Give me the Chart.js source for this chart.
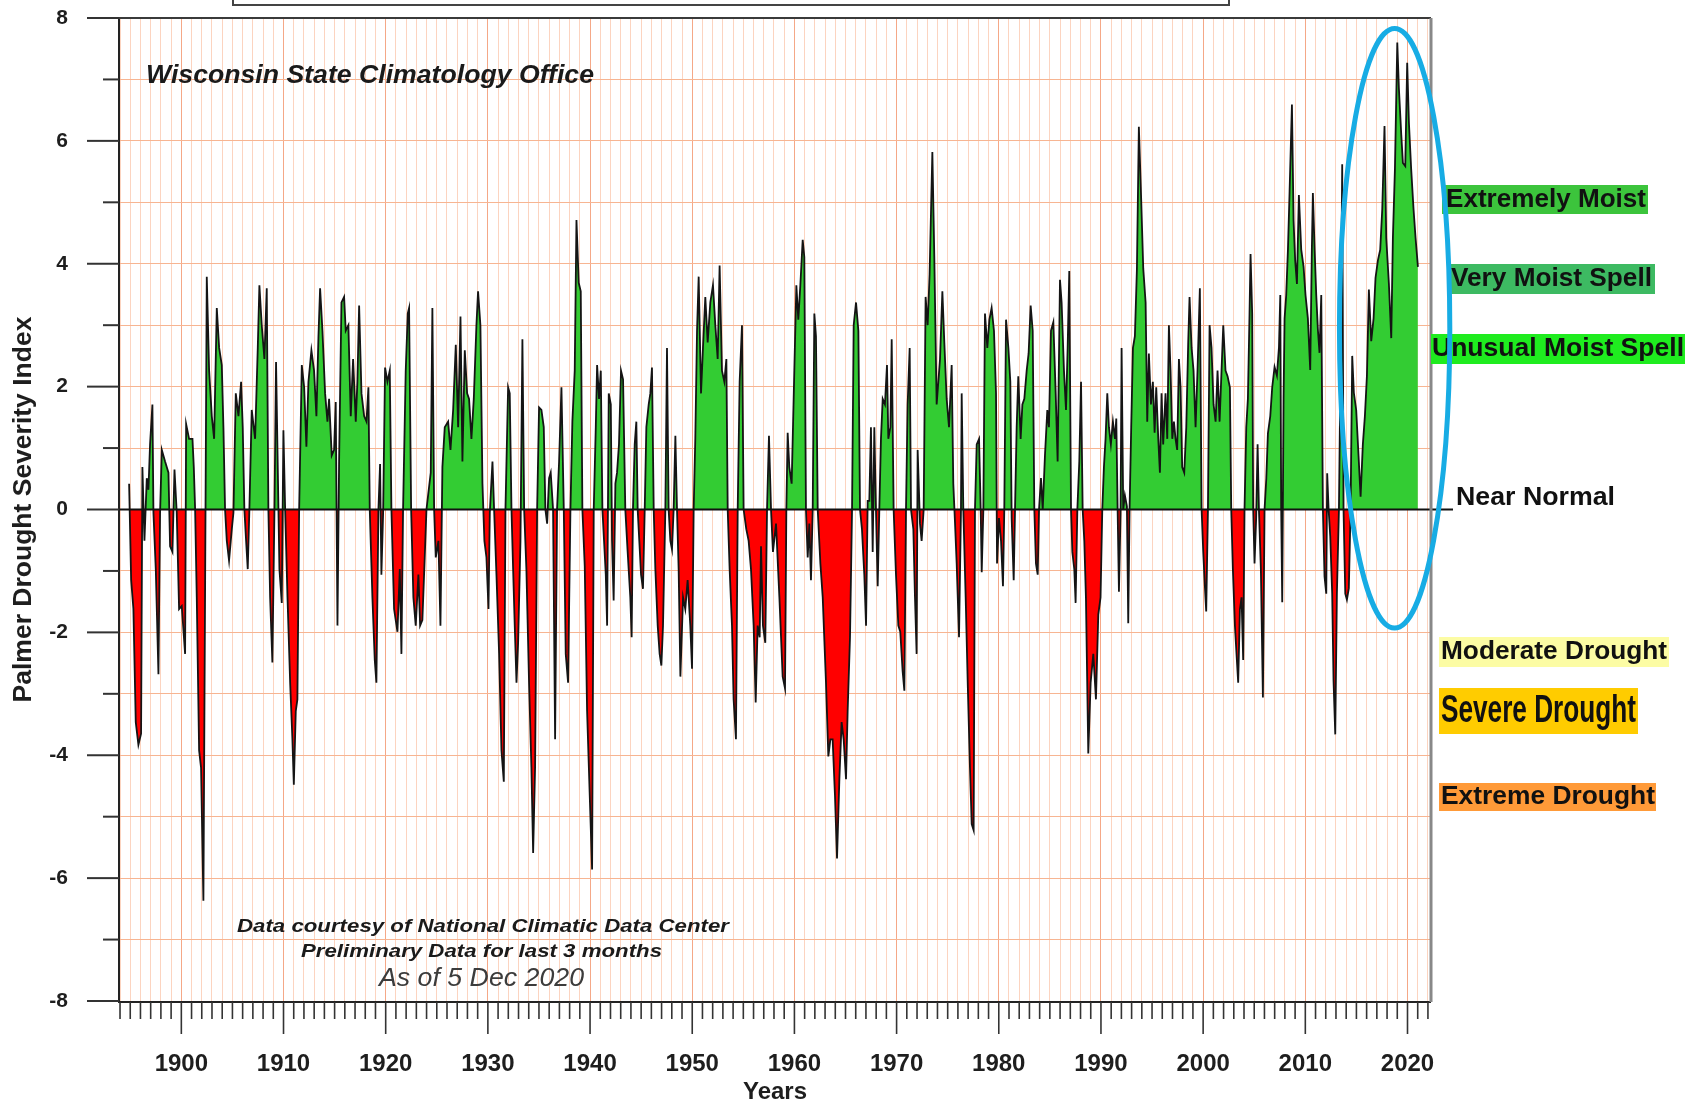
<!DOCTYPE html>
<html><head><meta charset="utf-8">
<script src="https://cdn.jsdelivr.net/npm/chart.js@4.4.1/dist/chart.umd.min.js"></script>
<style>html,body{margin:0;padding:0;background:#fff;}canvas{display:block;}</style>
</head><body>
<canvas id="c" width="1694" height="1107"></canvas>
<script>
// ---------- DATA ----------
const years = [
1894.89,1895.09,1895.31,1895.54,1895.80,1896.06,1896.19,1896.39,1896.62,1896.78,
1896.94,1897.17,1897.27,1897.50,1897.76,1897.92,1898.09,1898.41,1898.74,1898.90,
1899.13,1899.33,1899.55,1899.78,1900.04,1900.37,1900.47,1900.76,1901.09,1901.22,
1901.35,1901.51,1901.74,1901.93,1902.16,1902.49,1902.72,1902.98,1903.21,1903.47,
1903.70,1903.96,1904.12,1904.28,1904.45,1904.67,1904.94,1905.10,1905.33,1905.59,
1905.85,1906.01,1906.17,1906.34,1906.50,1906.66,1906.89,1907.22,1907.48,1907.64,
1907.87,1908.13,1908.36,1908.52,1908.69,1908.91,1909.11,1909.27,1909.60,1909.83,
1909.99,1910.16,1910.39,1910.65,1910.87,1911.01,1911.20,1911.36,1911.53,1911.79,
1912.02,1912.24,1912.44,1912.73,1912.99,1913.22,1913.42,1913.58,1913.81,1914.07,
1914.30,1914.46,1914.72,1914.95,1915.11,1915.28,1915.44,1915.67,1915.93,1916.09,
1916.35,1916.58,1916.81,1917.07,1917.23,1917.40,1917.63,1917.89,1918.12,1918.31,
1918.44,1918.70,1918.93,1919.09,1919.29,1919.45,1919.58,1919.75,1919.94,1920.17,
1920.40,1920.56,1920.82,1921.15,1921.38,1921.54,1921.70,1921.96,1922.16,1922.29,
1922.49,1922.71,1922.94,1923.20,1923.37,1923.59,1923.82,1923.99,1924.15,1924.41,
1924.57,1924.74,1924.90,1925.16,1925.36,1925.55,1925.78,1926.11,1926.34,1926.60,
1926.86,1927.09,1927.32,1927.51,1927.74,1927.97,1928.16,1928.39,1928.62,1928.88,
1929.04,1929.27,1929.47,1929.66,1929.86,1930.06,1930.19,1930.45,1930.61,1930.84,
1931.10,1931.33,1931.56,1931.72,1931.98,1932.14,1932.31,1932.47,1932.63,1932.80,
1932.96,1933.19,1933.38,1933.55,1933.77,1934.03,1934.26,1934.43,1934.62,1934.82,
1935.01,1935.24,1935.47,1935.63,1935.80,1935.99,1936.15,1936.38,1936.58,1936.77,
1936.97,1937.20,1937.43,1937.62,1937.85,1938.08,1938.27,1938.50,1938.67,1938.89,
1939.09,1939.25,1939.48,1939.71,1939.97,1940.20,1940.36,1940.56,1940.69,1940.88,
1941.05,1941.21,1941.37,1941.54,1941.67,1941.83,1942.03,1942.15,1942.31,1942.48,
1942.64,1942.83,1943.03,1943.23,1943.45,1943.68,1943.94,1944.07,1944.20,1944.37,
1944.53,1944.66,1944.82,1944.99,1945.18,1945.35,1945.51,1945.74,1945.90,1946.06,
1946.23,1946.39,1946.62,1946.81,1946.98,1947.14,1947.37,1947.53,1947.69,1947.86,
1948.02,1948.18,1948.35,1948.51,1948.67,1948.84,1949.10,1949.32,1949.55,1949.81,
1949.98,1950.14,1950.30,1950.47,1950.63,1950.86,1951.05,1951.28,1951.51,1951.77,
1952.03,1952.26,1952.49,1952.68,1952.91,1953.14,1953.34,1953.47,1953.66,1953.89,
1954.05,1954.28,1954.45,1954.64,1954.87,1955.03,1955.29,1955.52,1955.75,1956.01,
1956.21,1956.40,1956.60,1956.73,1956.92,1957.15,1957.32,1957.51,1957.71,1957.90,
1958.20,1958.53,1958.85,1959.08,1959.21,1959.34,1959.50,1959.73,1959.99,1960.19,
1960.38,1960.58,1960.81,1960.97,1961.13,1961.30,1961.46,1961.62,1961.79,1961.95,
1962.11,1962.28,1962.54,1962.77,1963.09,1963.32,1963.52,1963.74,1963.97,1964.17,
1964.40,1964.62,1964.82,1965.05,1965.21,1965.44,1965.64,1965.80,1966.03,1966.26,
1966.42,1966.61,1966.84,1967.01,1967.17,1967.33,1967.49,1967.66,1967.82,1967.98,
1968.15,1968.31,1968.47,1968.64,1968.86,1969.06,1969.19,1969.39,1969.52,1969.71,
1969.94,1970.17,1970.36,1970.59,1970.76,1970.92,1971.08,1971.28,1971.41,1971.64,
1971.80,1971.96,1972.06,1972.29,1972.45,1972.65,1972.84,1973.04,1973.23,1973.50,
1973.69,1973.92,1974.25,1974.48,1974.67,1974.90,1975.13,1975.39,1975.55,1975.72,
1975.88,1976.11,1976.30,1976.37,1976.53,1976.76,1976.96,1977.18,1977.35,1977.54,
1977.67,1977.84,1978.07,1978.23,1978.33,1978.49,1978.65,1978.88,1979.08,1979.30,
1979.53,1979.73,1979.83,1980.02,1980.22,1980.41,1980.54,1980.71,1980.94,1981.13,
1981.26,1981.46,1981.59,1981.75,1981.91,1982.14,1982.31,1982.50,1982.73,1982.92,
1983.12,1983.32,1983.48,1983.64,1983.81,1983.94,1984.13,1984.30,1984.52,1984.75,
1984.91,1985.11,1985.34,1985.57,1985.76,1985.99,1986.15,1986.38,1986.58,1986.74,
1986.90,1987.07,1987.20,1987.39,1987.52,1987.69,1987.88,1988.05,1988.21,1988.37,
1988.53,1988.76,1988.99,1989.25,1989.51,1989.74,1989.96,1990.13,1990.29,1990.45,
1990.62,1990.78,1990.97,1991.17,1991.37,1991.50,1991.63,1991.76,1991.92,1992.02,
1992.18,1992.34,1992.54,1992.67,1992.80,1992.96,1993.13,1993.32,1993.52,1993.71,
1993.94,1994.14,1994.37,1994.53,1994.69,1994.89,1995.08,1995.25,1995.41,1995.61,
1995.77,1995.93,1996.09,1996.32,1996.49,1996.65,1996.81,1996.98,1997.14,1997.30,
1997.46,1997.63,1997.79,1997.95,1998.15,1998.35,1998.54,1998.67,1998.87,1999.06,
1999.26,1999.45,1999.68,1999.85,2000.01,2000.17,2000.30,2000.47,2000.63,2000.82,
2001.02,2001.22,2001.41,2001.61,2001.80,2001.97,2002.19,2002.39,2002.62,2002.75,
2002.91,2003.11,2003.30,2003.43,2003.60,2003.76,2003.92,2004.05,2004.22,2004.38,
2004.54,2004.64,2004.80,2004.90,2005.03,2005.19,2005.33,2005.46,2005.65,2005.85,
2006.01,2006.18,2006.34,2006.57,2006.76,2006.99,2007.22,2007.42,2007.55,2007.64,
2007.74,2007.87,2007.97,2008.13,2008.30,2008.46,2008.69,2008.85,2009.01,2009.18,
2009.37,2009.60,2009.83,2010.02,2010.25,2010.48,2010.64,2010.74,2010.91,2011.07,
2011.23,2011.39,2011.56,2011.72,2011.88,2012.05,2012.14,2012.28,2012.44,2012.63,
2012.76,2012.93,2013.09,2013.29,2013.45,2013.61,2013.74,2013.91,2014.07,2014.26,
2014.43,2014.59,2014.75,2014.98,2015.21,2015.41,2015.63,2015.83,2016.03,2016.22,
2016.45,2016.68,2016.87,2017.10,2017.33,2017.53,2017.75,2017.92,2018.18,2018.41,
2018.57,2018.77,2019.00,2019.16,2019.39,2019.55,2019.78,2019.97,2020.14,2020.36,
2020.59,2020.79,2021.02
];
const pdsi = [
0.42,-1.15,-1.62,-3.46,-3.83,-3.65,0.69,-0.51,0.51,0.32,
1.06,1.71,-0.05,-0.97,-2.68,-0.05,0.97,0.78,0.60,-0.60,
-0.69,0.65,-0.05,-1.62,-1.57,-2.35,1.39,1.15,1.15,0.69,
0.00,-1.43,-3.92,-4.20,-6.37,3.79,2.26,1.52,1.15,3.28,
2.63,2.35,1.34,0.00,-0.51,-0.83,-0.32,-0.05,1.89,1.52,
2.08,1.34,0.00,-0.51,-0.97,0.00,1.62,1.15,2.63,3.65,
3.00,2.45,3.60,0.00,-1.43,-2.49,-0.05,2.40,-0.97,-1.52,
1.29,0.00,-1.43,-2.82,-3.74,-4.48,-3.28,-3.09,0.00,2.35,
1.99,1.02,2.08,2.59,2.26,1.52,2.82,3.60,2.91,1.89,
1.43,1.80,0.88,0.97,1.75,-1.89,0.78,3.37,3.46,2.91,
3.00,1.52,2.45,1.43,2.08,3.32,1.89,1.52,1.43,1.99,
0.00,-1.43,-2.45,-2.82,0.00,0.74,-1.06,-0.05,2.31,2.08,
2.26,0.00,-1.62,-1.99,-0.97,-2.35,0.00,2.26,3.19,3.28,
0.00,-1.43,-1.89,-1.06,-1.89,-1.80,-0.78,0.00,0.23,0.60,
3.28,0.00,-0.78,-0.51,-1.89,0.69,1.34,1.43,0.97,1.62,
2.68,1.34,3.14,0.78,2.59,1.89,1.80,1.15,1.80,3.00,
3.55,3.00,0.42,-0.51,-0.78,-1.62,-0.05,0.78,0.00,-1.06,
-2.35,-3.92,-4.43,0.00,1.99,1.89,0.00,-0.97,-1.89,-2.82,
-2.17,-0.51,2.77,0.00,-0.97,-2.82,-4.20,-5.59,-4.20,0.00,
1.66,1.62,1.34,0.00,-0.23,0.51,0.60,0.00,-3.74,0.00,
0.78,1.99,0.00,-2.35,-2.82,0.00,1.43,2.26,4.71,3.69,
3.55,0.00,-0.92,-3.28,-4.66,-5.86,0.00,1.34,2.35,1.80,
2.26,0.00,-0.51,-1.06,-1.89,1.89,1.71,-0.51,-1.48,0.42,
0.60,1.06,2.26,2.12,0.00,-0.69,-1.43,-2.08,0.00,1.06,
1.43,0.00,-0.51,-1.06,-1.29,0.00,1.34,1.71,1.89,2.31,
0.00,-0.97,-1.89,-2.35,-2.54,-1.89,0.00,2.63,0.00,-0.51,
-0.65,0.00,1.20,0.00,-0.97,-2.72,-1.43,-1.62,-1.15,-1.89,
-2.59,0.00,1.15,2.91,3.79,1.89,2.63,3.46,2.72,3.37,
3.65,3.00,2.45,3.97,2.26,2.08,2.45,0.00,-0.97,-1.89,
-3.09,-3.74,0.00,2.08,3.00,0.00,-0.32,-0.51,-0.97,-1.89,
-3.14,-1.89,-2.08,-0.60,-1.89,-2.17,0.00,1.20,0.00,-0.69,
-0.23,-1.43,-2.72,-2.91,0.00,1.25,0.69,0.42,2.26,3.65,
3.09,3.65,4.39,4.11,0.00,-0.78,-0.23,-1.15,0.00,3.19,
2.82,0.00,-0.88,-1.43,-2.82,-4.02,-3.74,-3.74,-4.66,-5.68,
-4.39,-3.46,-3.74,-4.39,-3.28,-2.08,0.00,3.00,3.37,2.91,
0.00,-0.32,-1.06,-1.89,0.14,0.14,1.34,-0.69,1.34,0.00,
-1.25,0.00,1.15,1.80,1.71,2.35,1.15,1.34,2.77,0.00,
-1.06,-1.89,-1.99,-2.63,-2.95,0.00,1.71,2.63,0.00,-0.32,
-1.43,-2.35,0.97,-0.23,-0.51,0.00,3.46,3.00,3.83,5.82,
4.11,1.71,2.45,3.55,2.72,1.80,1.34,2.35,0.42,-0.23,
-0.88,-2.08,0.00,1.89,0.00,-1.43,-2.82,-4.20,-5.12,-5.22,
0.00,1.06,1.15,0.00,-1.02,0.00,3.19,2.63,3.09,3.28,
2.91,1.89,-0.88,-0.14,-0.51,-1.25,0.00,3.09,2.63,2.08,
-0.14,-1.15,0.00,1.34,2.17,1.15,1.71,1.80,2.26,2.54,
3.32,2.91,0.00,-0.88,-1.06,0.00,0.51,0.00,0.88,1.62,
1.34,2.91,3.05,1.89,0.78,3.74,3.37,2.26,1.62,2.63,
3.88,0.00,-0.69,-0.97,-1.52,0.00,0.78,2.08,0.00,-0.51,
-1.43,-3.97,-2.82,-2.35,-3.09,-1.71,-1.43,0.00,0.69,1.15,
1.89,1.34,1.06,1.43,1.15,1.48,0.00,-1.34,-0.05,2.63,
0.00,0.23,0.05,-1.85,0.00,1.34,2.63,2.82,3.92,6.23,
5.03,3.92,3.37,1.43,2.54,1.71,2.08,1.25,1.99,1.15,
0.60,1.89,1.06,1.89,1.15,3.00,2.26,1.15,1.43,1.15,
0.97,2.45,1.99,0.69,0.60,1.34,2.72,3.46,2.63,2.26,
1.34,2.26,3.60,0.00,-0.69,-1.25,-1.66,0.00,3.00,2.63,
1.71,1.43,2.26,1.43,2.26,3.00,2.26,2.17,1.99,0.00,
-0.97,-1.89,-2.45,-2.82,-1.62,-1.43,-2.45,0.00,1.34,1.80,
3.19,4.16,3.19,0.00,-0.88,-0.14,1.06,0.00,-0.97,-3.06,
0.00,0.50,1.24,1.52,1.99,2.32,2.18,2.64,3.49,0.00,
-1.51,1.80,3.11,3.49,4.23,5.17,6.59,4.70,4.05,3.67,
5.12,4.23,3.95,3.49,3.11,2.27,4.23,5.15,4.23,3.49,
2.93,2.55,3.49,0.00,-1.09,-1.37,0.59,0.00,-0.44,-1.37,
-2.78,-3.66,-1.37,0.00,2.36,5.62,0.00,-1.37,-1.47,-1.28,
0.00,2.50,1.90,1.62,0.87,0.21,1.06,1.52,2.18,3.58,
2.74,3.11,3.77,4.05,4.23,4.89,6.24,4.42,3.67,2.79,
4.42,5.54,7.60,6.85,6.10,5.64,5.59,7.27,6.29,5.54,
4.89,4.42,3.95
];
const xLabelYears = [1900,1910,1920,1930,1940,1950,1960,1970,1980,1990,2000,2010,2020];
const yTickValues = [-8,-7,-6,-5,-4,-3,-2,-1,0,1,2,3,4,5,6,7,8];
const yLabelValues = [-8,-6,-4,-2,0,2,4,6,8];
const categoryNames = ['Extremely Moist','Very Moist Spell','Unusual Moist Spell','Near Normal','Moderate Drought','Severe Drought','Extreme Drought'];
const noteTexts = ['Wisconsin State Climatology Office','Data courtesy of National Climatic Data Center','Preliminary Data for last 3 months','As of 5 Dec 2020'];
const axisTitles = {x:'Years', y:'Palmer Drought Severity Index'};

// ---------- STYLE / LAYOUT ----------
const FONT = "'Liberation Sans', Arial, Helvetica, sans-serif";
const X_MIN = 1893.9, X_MAX = 2022.3;
const gridYears = [];
for (let v = 1894; v <= 2022; v++) gridYears.push(v);

const categoryStyle = [
  {box:[1442,185,206,29], bg:'#3cc43c', tx:1446, tw:200, ty:200, font:'bold 26px '+FONT},
  {box:[1448,264,207,30], bg:'#3dba62', tx:1451, tw:201, ty:279, font:'bold 26px '+FONT},
  {box:[1431,334,254,30], bg:'#1fec1f', tx:1432, tw:252, ty:349, font:'bold 26px '+FONT},
  {box:null,              bg:null,      tx:1456, tw:159, ty:498, font:'bold 26px '+FONT},
  {box:[1439,637,230,30], bg:'#fcfca4', tx:1441, tw:226, ty:652, font:'bold 26px '+FONT},
  {box:[1439,688,199,46], bg:'#ffcc00', tx:1441, tw:195, ty:712, font:'bold 38px '+FONT},
  {box:[1439,783,217,28], bg:'#ff9a38', tx:1441, tw:214, ty:797, font:'bold 26px '+FONT}
];
const noteStyle = [
  {x:146, y:76,  w:448, font:'italic bold 26px '+FONT, color:'#1a1a1a'},
  {x:237, y:927, w:492, font:'italic bold 19px '+FONT, color:'#1a1a1a'},
  {x:301, y:952, w:361, font:'italic bold 19px '+FONT, color:'#1a1a1a'},
  {x:379, y:979, w:205, font:'italic 26px '+FONT, color:'#3c3c3c'}
];
const ellipseSpec = {cx:2018.74, cy:2.95, rx:5.4, ry:4.88, color:'#17ace4', width:5};

function fitText(ctx, text, x, y, w, font, color) {
  ctx.save();
  ctx.font = font;
  ctx.fillStyle = color || '#111';
  ctx.textAlign = 'left';
  ctx.textBaseline = 'middle';
  const m = ctx.measureText(text).width;
  ctx.translate(x, y);
  ctx.scale(w / m, 1);
  ctx.fillText(text, 0, 0);
  ctx.restore();
}

const decor = {
  id: 'decor',
  beforeDraw(chart) {
    const c = chart.ctx;
    c.save(); c.fillStyle = '#fff'; c.fillRect(0, 0, chart.width, chart.height); c.restore();
  },
  afterDatasetsDraw(chart) {
    const {ctx, chartArea: a, scales: {x, y}} = chart;
    ctx.save();
    const y0 = y.getPixelForValue(0);
    // zero line (extends past the right edge)
    ctx.strokeStyle = '#111'; ctx.lineWidth = 2;
    ctx.beginPath(); ctx.moveTo(a.left, y0); ctx.lineTo(a.right + 22, y0); ctx.stroke();
    // frame
    ctx.strokeStyle = '#222'; ctx.lineWidth = 2;
    ctx.beginPath(); ctx.moveTo(a.left, a.top - 1); ctx.lineTo(a.left, a.bottom + 1);
    ctx.lineTo(a.right, a.bottom + 1); ctx.stroke();
    ctx.strokeStyle = '#3a3a3a';
    ctx.beginPath(); ctx.moveTo(a.left, a.top); ctx.lineTo(a.right, a.top); ctx.stroke();
    ctx.strokeStyle = '#888'; ctx.lineWidth = 3;
    ctx.beginPath(); ctx.moveTo(a.right, a.top); ctx.lineTo(a.right, a.bottom + 1); ctx.stroke();
    // y tick marks
    ctx.strokeStyle = '#333'; ctx.lineWidth = 2;
    yTickValues.forEach(v => {
      const py = y.getPixelForValue(v);
      const len = (v % 2 === 0) ? 32 : 16;
      ctx.beginPath(); ctx.moveTo(a.left - len, py); ctx.lineTo(a.left, py); ctx.stroke();
    });
    // x tick marks
    ctx.lineWidth = 1.6;
    gridYears.forEach(v => {
      const px = x.getPixelForValue(v);
      const len = (v % 10 === 0) ? 32 : 17;
      ctx.beginPath(); ctx.moveTo(px, a.bottom + 1); ctx.lineTo(px, a.bottom + 1 + len); ctx.stroke();
    });
    // top (cropped) box
    ctx.strokeStyle = '#444'; ctx.lineWidth = 2;
    ctx.strokeRect(233, -10, 996, 15);
    // notes
    noteTexts.forEach((t, i) => {
      const s = noteStyle[i];
      fitText(ctx, t, s.x, s.y, s.w, s.font, s.color);
    });
    // category labels on the right
    categoryNames.forEach((t, i) => {
      const s = categoryStyle[i];
      if (s.box) { ctx.fillStyle = s.bg; ctx.fillRect(s.box[0], s.box[1], s.box[2], s.box[3]); }
      fitText(ctx, t, s.tx, s.ty, s.tw, s.font, '#111');
    });
    // highlight ellipse
    const cx = x.getPixelForValue(ellipseSpec.cx), cy = y.getPixelForValue(ellipseSpec.cy);
    const rx = x.getPixelForValue(ellipseSpec.cx + ellipseSpec.rx) - cx;
    const ry = y.getPixelForValue(ellipseSpec.cy - ellipseSpec.ry) - cy;
    ctx.strokeStyle = ellipseSpec.color; ctx.lineWidth = ellipseSpec.width;
    ctx.beginPath(); ctx.ellipse(cx, cy, rx, ry, 0, 0, Math.PI * 2); ctx.stroke();
    ctx.restore();
  }
};

Chart.defaults.font.family = FONT;
new Chart(document.getElementById('c').getContext('2d'), {
  type: 'line',
  data: {
    datasets: [{
      label: 'PDSI',
      data: years.map((yr, i) => ({x: yr, y: pdsi[i]})),
      borderColor: '#141414',
      borderWidth: 1.8,
      pointRadius: 0,
      tension: 0,
      fill: {target: 'origin', above: '#33cc33', below: '#ff0000'}
    }]
  },
  options: {
    responsive: false,
    animation: false,
    devicePixelRatio: 1,
    layout: {padding: {top: 18, right: 263, left: 0, bottom: 0}},
    plugins: {legend: {display: false}, tooltip: {enabled: false}},
    scales: {
      x: {
        type: 'linear', min: X_MIN, max: X_MAX,
        afterBuildTicks: ax => { ax.ticks = gridYears.map(v => ({value: v})); },
        afterFit: s => { s.height = 106; s.paddingLeft = 0; s.paddingRight = 0; s.paddingTop = 0; s.paddingBottom = 0; },
        border: {display: false},
        grid: {
          drawTicks: false, lineWidth: 1,
          color: c => (c.tick && c.tick.value % 10 === 0) ? '#f5a887' : '#fcd4c0'
        },
        ticks: {
          autoSkip: false, maxRotation: 0, minRotation: 0, padding: 49,
          color: '#1e1e1e', font: {size: 24, weight: 'bold'},
          callback: v => xLabelYears.includes(v) ? String(v) : ''
        },
        title: {display: true, text: axisTitles.x, color: '#1e1e1e',
                font: {size: 24, weight: 'bold'}, padding: {top: 0, bottom: 0}}
      },
      y: {
        min: -8, max: 8,
        afterBuildTicks: ax => { ax.ticks = yTickValues.map(v => ({value: v})); },
        afterFit: s => { s.width = 119; s.paddingTop = 0; s.paddingBottom = 0; s.paddingLeft = 0; s.paddingRight = 0; },
        border: {display: false},
        grid: {drawTicks: false, lineWidth: 1, color: '#f7b592'},
        ticks: {
          autoSkip: false, padding: 51, color: '#1e1e1e',
          font: {size: 21, weight: 'bold'},
          callback: v => yLabelValues.includes(v) ? String(v) : ''
        },
        title: {display: true, text: axisTitles.y, color: '#1e1e1e',
                font: {size: 26.5, weight: 'bold'}, padding: {top: 8, bottom: 0}}
      }
    }
  },
  plugins: [decor]
});
</script>
</body></html>
